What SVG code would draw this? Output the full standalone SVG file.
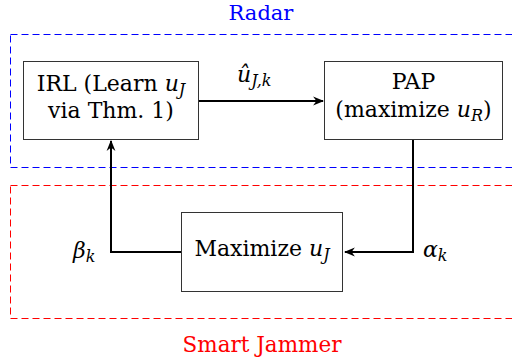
<svg xmlns="http://www.w3.org/2000/svg" width="512" height="362" viewBox="0 0 512 362">
<style>
text{fill:#000;font-family:"DejaVu Serif",serif}
.lbl{font-size:22px}
.m{font-style:italic}
.sub{font-size:16px;font-style:italic}
.box{fill:#fff;stroke:#333;stroke-width:1}
.conn{fill:none;stroke:#000;stroke-width:2}
.reg{fill:none;stroke-width:1;stroke-dasharray:7,4}
</style>
<defs>
<marker id="arr" viewBox="0 0 10 10" refX="9" refY="5" markerWidth="5.5" markerHeight="5.5" markerUnits="strokeWidth" orient="auto">
<path d="M0,1 L10,5 L0,9 L3,5 Z" fill="#000"/>
</marker>
</defs>
<g id="regions">
<rect class="reg" x="10.5" y="34.5" width="520" height="133" stroke="#0000ff"/>
<rect class="reg" x="10.5" y="185.5" width="520" height="133" stroke="#ff0000"/>
<text x="261" y="20" text-anchor="middle" style="font-size:21px;fill:#0000ff">Radar</text>
<text x="262" y="352" text-anchor="middle" style="font-size:21.5px;fill:#ff0000">Smart Jammer</text>
</g>
<g id="connectors">
<line class="conn" x1="199" y1="101" x2="323" y2="101" marker-end="url(#arr)"/>
<path class="conn" d="M413,140 V252 H345" marker-end="url(#arr)"/>
<path class="conn" d="M181,252 H111 V141" marker-end="url(#arr)"/>
<text x="237" y="82" class="lbl"><tspan class="m">û</tspan><tspan class="sub" dy="4">J,k</tspan></text>
<text x="73" y="258" class="lbl"><tspan class="m">β</tspan><tspan class="sub" dy="4">k</tspan></text>
<text x="423" y="257" class="lbl"><tspan class="m">α</tspan><tspan class="sub" dy="4">k</tspan></text>
</g>
<g id="irl">
<rect class="box" x="23.5" y="61.5" width="175" height="78"/>
<text x="111" y="91" text-anchor="middle" class="lbl">IRL (Learn <tspan class="m">u</tspan><tspan class="sub" dy="4">J</tspan></text>
<text x="111" y="118" text-anchor="middle" class="lbl">via Thm. 1)</text>
</g>
<g id="pap">
<rect class="box" x="324.5" y="61.5" width="178" height="78"/>
<text x="413.5" y="89" text-anchor="middle" class="lbl">PAP</text>
<text x="413.5" y="117" text-anchor="middle" class="lbl">(maximize <tspan class="m">u</tspan><tspan class="sub" dy="4">R</tspan><tspan dy="-4">)</tspan></text>
</g>
<g id="maximize">
<rect class="box" x="181.5" y="212.5" width="161" height="79"/>
<text x="262" y="256" text-anchor="middle" class="lbl">Maximize <tspan class="m">u</tspan><tspan class="sub" dy="4">J</tspan></text>
</g>
</svg>
